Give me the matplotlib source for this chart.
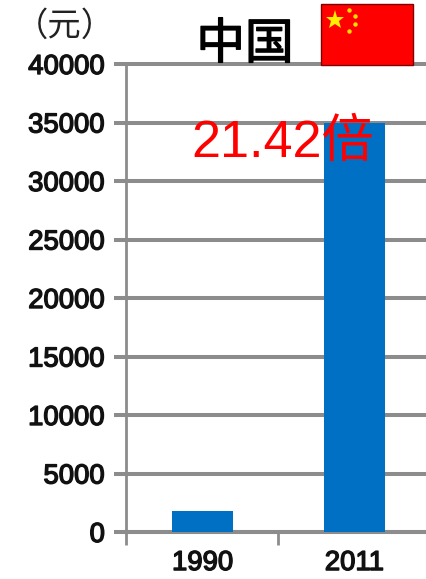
import matplotlib
matplotlib.use('Agg')
import matplotlib.pyplot as plt
import matplotlib.patheffects as pe
from matplotlib.patches import Rectangle

plt.rcParams['font.family'] = ['Liberation Sans', 'Noto Sans CJK SC', 'DejaVu Sans']

years = ['1990', '2011']
income = [1770, 35000]
yticks = [0, 5000, 10000, 15000, 20000, 25000, 30000, 35000, 40000]

W, H = 427, 579
grey = '#8c8c8c'
heavy = [pe.withStroke(linewidth=1, foreground='#111111')]

fig = plt.figure(figsize=(W / 100, H / 100), dpi=100)
# axes runs a little past the right edge of the picture, as in the original
ax = fig.add_axes([126.5 / W, 1 - 532 / H, 304 / W, 468 / H])

ax.bar([0.5, 1.5], income, width=0.4, color='#0070c4', zorder=3)
ax.set_xlim(0, 2)
ax.set_ylim(0, 40000)
ax.set_xticks([0, 1, 2])
ax.set_xticklabels([])
ax.set_yticks(yticks)
ax.set_yticklabels([str(v) for v in yticks], fontsize=19.8, color='#111111', path_effects=heavy)
ax.tick_params(axis='y', length=9, width=2.9, color=grey, pad=6.5)
ax.tick_params(axis='x', length=9, width=2, color=grey)
ax.set_xticks([0.5, 1.5], labels=years, minor=True)
ax.tick_params(axis='x', which='minor', length=0, pad=13, labelsize=19.8, labelcolor='#111111')
for lab in ax.get_xticklabels(minor=True):
    lab.set_path_effects(heavy)

ax.grid(axis='y', color=grey, linewidth=2.9, zorder=1, clip_on=False)
ax.set_axisbelow(True)
for s in ['top', 'right']:
    ax.spines[s].set_visible(False)
ax.spines['left'].set_color(grey)
ax.spines['left'].set_linewidth(2)
ax.spines['bottom'].set_color(grey)
ax.spines['bottom'].set_linewidth(2.9)

# titles
fig.text(65 / W, 1 - 27 / H, '（元）', fontsize=24, ha='center', va='center', color='#222222')
fig.text(245 / W, 1 - 46 / H, '中国', fontsize=35, ha='center', va='center', color='black',
         path_effects=[pe.withStroke(linewidth=1, foreground='black')])
fig.text(283 / W, 1 - 143 / H, '21.42倍', fontsize=37.5, ha='center', va='center', color='#ff0000', zorder=5)

# flag
fig.add_artist(Rectangle((321 / W, 1 - 65 / H), 92 / W, 61 / H, transform=fig.transFigure,
                         facecolor='#ff0000', edgecolor='#800000', linewidth=1, zorder=6))
flag = fig.add_axes([321 / W, 1 - 65 / H, 92 / W, 61 / H], zorder=7)
flag.set_xlim(0, 92)
flag.set_ylim(61, 0)
flag.axis('off')
flag.plot([14], [16], marker='*', markersize=14, color='#ffee00', markeredgewidth=0)
flag.plot([28, 34, 34, 28], [6, 12, 20, 27], marker='o', linestyle='none', markersize=3.2,
          color='#ffdd00', markeredgewidth=0)

fig.savefig('out.png', dpi=100)
